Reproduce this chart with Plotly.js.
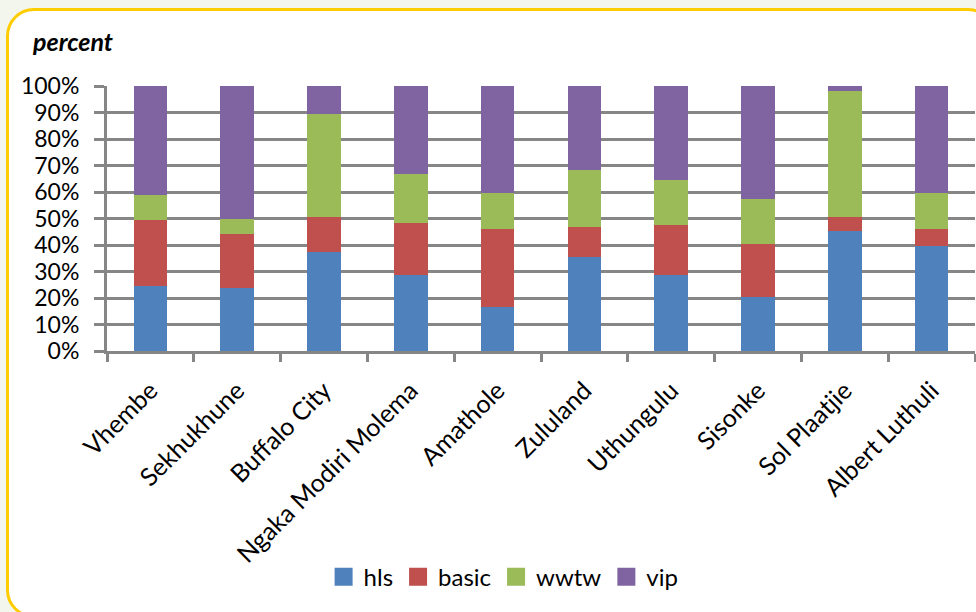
<!DOCTYPE html>
<html>
<head>
<meta charset="utf-8">
<script src="https://cdn.plot.ly/plotly-3.0.1.min.js"></script>
<style>
  html, body { margin: 0; padding: 0; width: 976px; height: 612px; overflow: hidden; background: #F3F6EC; }
  #frame { position: absolute; left: 6px; top: 8px; width: 990px; height: 610px; border: 3px solid #FFCC00; border-radius: 28px; background: #FFFFFF; box-sizing: border-box; }
  #chart { position: absolute; left: 0; top: 0; width: 976px; height: 612px; }
</style>
</head>
<body>
<div id="frame"></div>
<div id="chart"></div>
<script>
const categories = ["Vhembe", "Sekhukhune", "Buffalo City", "Ngaka Modiri Molema", "Amathole", "Zululand", "Uthungulu", "Sisonke", "Sol Plaatjie", "Albert Luthuli"];
const hls   = [24.5, 23.7, 37.2, 28.6, 16.5, 35.6, 28.6, 20.4, 45.3, 39.6];
const basic = [24.9, 20.6, 13.5, 19.8, 29.4, 11.1, 18.9, 20.0, 5.4, 6.3];
const wwtw  = [9.5, 5.6, 38.7, 18.4, 13.6, 21.6, 16.9, 17.0, 47.4, 13.6];
const vip   = [41.1, 50.1, 10.6, 33.2, 40.5, 31.7, 35.6, 42.6, 1.9, 40.5];
const yTickVals = [0, 10, 20, 30, 40, 50, 60, 70, 80, 90, 100];
const yTickText = ["0%", "10%", "20%", "30%", "40%", "50%", "60%", "70%", "80%", "90%", "100%"];

const seriesNames = ["hls", "basic", "wwtw", "vip"];
const seriesData = [hls, basic, wwtw, vip];
const seriesColors = ["#4F81BD", "#C0504D", "#9BBB59", "#8064A2"];

const barTraces = seriesNames.map((n, i) => ({
  type: "bar",
  name: n,
  x: categories,
  y: seriesData[i],
  legendgroup: n,
  showlegend: false,
  marker: { color: seriesColors[i], line: { width: 0 } }
}));

// legend-only entries (square swatches like the reference)
const legendTraces = seriesNames.map((n, i) => ({
  type: "scatter",
  mode: "markers",
  name: n,
  x: [null],
  y: [null],
  legendgroup: n,
  showlegend: true,
  marker: { symbol: "square", size: 16, color: seriesColors[i], line: { width: 2, color: seriesColors[i] } }
}));

const layout = {
  width: 976,
  height: 612,
  margin: { l: 107, r: 1, t: 86, b: 261 },
  paper_bgcolor: "rgba(0,0,0,0)",
  plot_bgcolor: "rgba(0,0,0,0)",
  barmode: "stack",
  bargap: 0.615,
  font: { family: "Lato, 'Open Sans', sans-serif", color: "#000000" },
  xaxis: {
    type: "category",
    tickangle: -45,
    tickfont: { size: 25, family: "Lato, sans-serif", color: "#000" },
    showline: true,
    linecolor: "#868686",
    linewidth: 3,
    ticks: "outside",
    tickson: "boundaries",
    ticklen: 8,
    tickwidth: 3,
    tickcolor: "#868686",
    ticklabelstandoff: 12,
    showgrid: false,
    zeroline: false,
    fixedrange: true
  },
  yaxis: {
    range: [0, 100],
    tickvals: yTickVals,
    ticktext: yTickText,
    tickfont: { size: 23, family: "Lato, sans-serif", color: "#000" },
    showline: true,
    linecolor: "#868686",
    linewidth: 3,
    ticks: "outside",
    ticklen: 10,
    tickwidth: 3,
    tickcolor: "#868686",
    showgrid: true,
    gridcolor: "#868686",
    gridwidth: 3,
    zeroline: false,
    ticklabelstandoff: 10,
    fixedrange: true
  },
  legend: {
    orientation: "h",
    x: 0.516,
    xanchor: "center",
    xref: "container",
    y: 0.057,
    yanchor: "middle",
    yref: "container",
    font: { size: 24, family: "Lato, sans-serif", color: "#000" },
    traceorder: "normal",
    itemwidth: 30,
    bgcolor: "rgba(0,0,0,0)"
  },
  annotations: [{
    text: "<b><i>percent</i></b>",
    xref: "paper", yref: "paper",
    x: -0.0887, y: 1.17,
    xanchor: "left", yanchor: "middle",
    showarrow: false,
    font: { size: 25, family: "Lato, sans-serif", color: "#000" }
  }],
  showlegend: true
};

Plotly.newPlot("chart", barTraces.concat(legendTraces), layout, { displayModeBar: false, staticPlot: true });
</script>
</body>
</html>
